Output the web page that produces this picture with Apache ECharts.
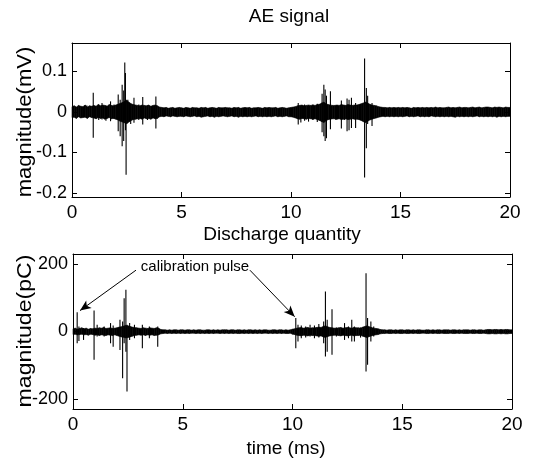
<!DOCTYPE html>
<html>
<head>
<meta charset="utf-8">
<script src="https://cdn.jsdelivr.net/npm/echarts@6/dist/echarts.min.js"></script>
<style>
  html, body { margin: 0; padding: 0; background: #fff; }
  #chart { width: 549px; height: 458px; }
</style>
</head>
<body>
<div id="chart"></div>
<script>
// Background envelopes are sampled every 0.1 ms over 0–20 ms.
const SAMPLE_STEP_MS = 0.1;

const timeTicks = [0, 5, 10, 15, 20];
const aeTicks = [-0.2, -0.1, 0, 0.1];
const chargeTicks = [-200, 0, 200];

// AE signal background envelope (mV), one row per millisecond.
const aeUpper = [
  0.013,0.015,0.012,0.016,0.014,0.013,0.017,0.012,0.015,0.014,
  0.016,0.014,0.018,0.015,0.017,0.016,0.014,0.018,0.016,0.015,
  0.017,0.019,0.021,0.023,0.026,0.028,0.024,0.020,0.018,0.017,
  0.016,0.015,0.017,0.016,0.015,0.017,0.014,0.016,0.017,0.015,
  0.012,0.011,0.010,0.011,0.009,0.010,0.011,0.009,0.010,0.011,
  0.010,0.009,0.011,0.010,0.009,0.011,0.010,0.010,0.009,0.011,
  0.010,0.011,0.009,0.010,0.011,0.010,0.009,0.011,0.010,0.010,
  0.011,0.010,0.010,0.009,0.011,0.010,0.011,0.009,0.010,0.011,
  0.010,0.011,0.009,0.010,0.010,0.011,0.010,0.009,0.011,0.010,
  0.011,0.010,0.010,0.011,0.009,0.010,0.011,0.010,0.009,0.010,
  0.011,0.012,0.013,0.015,0.016,0.017,0.015,0.016,0.017,0.016,
  0.017,0.016,0.018,0.019,0.022,0.024,0.020,0.018,0.017,0.016,
  0.016,0.017,0.016,0.018,0.017,0.016,0.018,0.017,0.016,0.017,
  0.017,0.018,0.020,0.022,0.024,0.022,0.019,0.017,0.016,0.015,
  0.013,0.012,0.011,0.011,0.010,0.011,0.010,0.011,0.010,0.011,
  0.010,0.011,0.010,0.011,0.010,0.009,0.011,0.010,0.011,0.010,
  0.011,0.010,0.011,0.010,0.011,0.010,0.012,0.010,0.011,0.010,
  0.010,0.011,0.012,0.010,0.011,0.010,0.011,0.012,0.010,0.011,
  0.011,0.010,0.011,0.012,0.010,0.011,0.012,0.010,0.011,0.012,
  0.012,0.011,0.010,0.012,0.011,0.012,0.011,0.010,0.012,0.011,
  0.011
];
const aeLower = [
  -0.014,-0.013,-0.016,-0.012,-0.015,-0.014,-0.013,-0.016,-0.012,-0.014,
  -0.015,-0.017,-0.014,-0.016,-0.015,-0.018,-0.016,-0.014,-0.017,-0.016,
  -0.018,-0.020,-0.023,-0.025,-0.027,-0.029,-0.025,-0.021,-0.019,-0.018,
  -0.017,-0.016,-0.018,-0.015,-0.017,-0.016,-0.018,-0.015,-0.017,-0.016,
  -0.012,-0.011,-0.012,-0.010,-0.011,-0.012,-0.010,-0.011,-0.012,-0.011,
  -0.011,-0.012,-0.010,-0.011,-0.012,-0.011,-0.010,-0.012,-0.011,-0.013,
  -0.012,-0.011,-0.010,-0.012,-0.011,-0.013,-0.011,-0.012,-0.011,-0.010,
  -0.011,-0.012,-0.011,-0.010,-0.012,-0.011,-0.013,-0.011,-0.012,-0.011,
  -0.012,-0.011,-0.012,-0.011,-0.010,-0.012,-0.011,-0.012,-0.011,-0.012,
  -0.011,-0.012,-0.011,-0.010,-0.012,-0.011,-0.012,-0.011,-0.010,-0.012,
  -0.012,-0.013,-0.015,-0.017,-0.018,-0.016,-0.017,-0.018,-0.016,-0.017,
  -0.018,-0.017,-0.019,-0.021,-0.024,-0.026,-0.022,-0.019,-0.018,-0.017,
  -0.017,-0.018,-0.017,-0.019,-0.018,-0.017,-0.019,-0.018,-0.017,-0.018,
  -0.018,-0.019,-0.021,-0.024,-0.026,-0.023,-0.020,-0.018,-0.016,-0.015,
  -0.013,-0.012,-0.011,-0.012,-0.011,-0.012,-0.011,-0.012,-0.011,-0.012,
  -0.011,-0.012,-0.011,-0.010,-0.012,-0.011,-0.012,-0.011,-0.010,-0.012,
  -0.011,-0.012,-0.011,-0.012,-0.010,-0.011,-0.012,-0.011,-0.012,-0.011,
  -0.012,-0.011,-0.012,-0.011,-0.012,-0.013,-0.011,-0.012,-0.011,-0.012,
  -0.011,-0.012,-0.011,-0.012,-0.011,-0.010,-0.012,-0.011,-0.012,-0.011,
  -0.012,-0.011,-0.012,-0.011,-0.013,-0.011,-0.012,-0.011,-0.012,-0.011,
  -0.011
];

// AE bursts: [time ms, positive peak mV, negative peak mV]
const aeBursts = [
  [0.68, 0.016, -0.014], [0.97, 0.047, -0.064], [1.22, 0.018, -0.020],
  [1.37, 0.022, -0.019], [1.55, 0.016, -0.022], [1.76, 0.026, -0.023],
  [1.92, 0.018, -0.016], [2.11, 0.043, -0.048], [2.20, 0.030, -0.060],
  [2.29, 0.067, -0.085], [2.36, 0.053, -0.072], [2.41, 0.122, -0.020],
  [2.44, 0.096, -0.045], [2.47, 0.030, -0.155], [2.55, 0.030, -0.022],
  [2.68, 0.020, -0.030], [2.83, 0.035, -0.027], [3.05, 0.018, -0.020],
  [3.23, 0.037, -0.031], [3.45, 0.016, -0.020], [3.83, 0.038, -0.041],
  [10.33, 0.022, -0.031], [10.45, 0.016, -0.026], [10.62, 0.018, -0.022],
  [10.80, 0.014, -0.024], [11.00, 0.018, -0.020], [11.20, 0.020, -0.025],
  [11.42, 0.045, -0.050], [11.50, 0.067, -0.060], [11.56, 0.055, -0.072],
  [11.62, 0.040, -0.065], [11.80, 0.051, -0.043], [12.05, 0.016, -0.020],
  [12.30, 0.028, -0.041], [12.45, 0.016, -0.020], [12.56, 0.033, -0.048],
  [12.65, 0.030, -0.045], [12.76, 0.035, -0.040], [12.95, 0.022, -0.040],
  [13.15, 0.018, -0.020], [13.36, 0.132, -0.162], [13.44, 0.059, -0.090],
  [13.50, 0.040, -0.030], [13.70, 0.022, -0.035]
];

// Discharge quantity background envelope (pC), one row per millisecond.
const chargeUpper = [
  8,10,7,9,11,8,10,7,9,8,
  10,9,11,10,12,9,10,11,9,10,
  11,13,14,16,18,17,15,13,12,11,
  10,9,11,10,9,11,10,9,11,10,
  6,5,5,4,5,4,5,5,4,5,
  5,4,5,5,4,5,4,5,5,4,
  4,5,5,4,5,4,5,4,5,5,
  5,4,5,5,4,5,5,4,5,4,
  5,5,4,5,4,5,4,5,5,4,
  4,5,5,4,5,5,4,5,4,5,
  7,8,10,11,12,10,11,12,10,11,
  11,12,13,12,15,17,14,12,11,10,
  10,11,12,10,11,12,11,10,12,11,
  11,10,13,15,17,14,12,10,9,8,
  6,5,5,4,5,5,4,5,4,5,
  5,4,5,5,4,5,4,5,5,4,
  4,5,5,4,5,4,5,5,4,5,
  5,5,4,5,5,4,5,4,5,5,
  5,4,5,5,4,5,5,4,5,6,
  6,5,6,6,5,6,5,6,6,5,
  5
];
const chargeLower = [
  -9,-8,-10,-9,-8,-10,-9,-11,-8,-9,
  -11,-10,-12,-10,-11,-12,-10,-11,-12,-10,
  -12,-14,-16,-17,-19,-18,-16,-14,-12,-11,
  -10,-11,-10,-12,-10,-11,-10,-12,-11,-10,
  -7,-6,-5,-6,-5,-6,-5,-6,-5,-6,
  -5,-6,-5,-6,-5,-5,-6,-5,-6,-5,
  -6,-5,-6,-5,-6,-5,-5,-6,-5,-6,
  -5,-6,-5,-6,-5,-6,-6,-5,-6,-5,
  -6,-5,-6,-5,-6,-5,-6,-5,-5,-6,
  -5,-6,-5,-6,-5,-6,-5,-6,-6,-5,
  -8,-9,-11,-12,-13,-11,-12,-13,-11,-12,
  -12,-13,-14,-13,-16,-18,-15,-13,-12,-11,
  -11,-12,-13,-11,-12,-13,-12,-11,-13,-12,
  -12,-11,-14,-16,-18,-15,-13,-11,-10,-9,
  -7,-6,-6,-5,-6,-6,-5,-6,-5,-6,
  -6,-5,-6,-6,-5,-6,-5,-6,-6,-5,
  -5,-6,-6,-5,-6,-5,-6,-6,-5,-6,
  -6,-6,-5,-6,-6,-5,-6,-5,-6,-6,
  -6,-5,-6,-6,-5,-6,-6,-5,-6,-7,
  -7,-6,-7,-7,-6,-7,-6,-7,-7,-6,
  -6
];

// Discharge pulses: [time ms, positive peak pC, negative peak pC]
const chargeBursts = [
  [0.19, 57, -35], [0.27, 15, -28], [0.48, 10, -25], [0.96, 62, -84],
  [1.10, 20, -15], [1.42, 15, -15], [1.71, 25, -35], [1.83, 18, -45],
  [2.14, 35, -55], [2.26, 30, -139], [2.33, 99, -35], [2.41, 124, -60],
  [2.46, 20, -178], [2.58, 25, -25], [2.80, 20, -20], [3.16, 20, -50],
  [3.48, 15, -20], [3.86, 15, -45],
  [10.15, 40, -50], [10.25, 20, -30], [10.40, 18, -20], [10.60, 15, -18],
  [10.80, 20, -15], [11.00, 18, -20], [11.20, 22, -18], [11.42, 30, -35],
  [11.50, 119, -74], [11.58, 35, -60], [11.80, 66, -69], [12.00, 12, -15],
  [12.37, 25, -25], [12.55, 15, -20], [12.70, 35, -30], [12.82, 15, -30],
  [13.10, 12, -18], [13.35, 173, -119], [13.42, 40, -99], [13.57, 30, -30],
  [13.70, 15, -15]
];

const FONT = '"Liberation Sans", Arial, Helvetica, sans-serif';
const INK = '#000';

// Consecutive envelope samples become quads: [t0, lo0, hi0, t1, lo1, hi1]
function bandSegments(upper, lower) {
  const segs = [];
  for (let i = 0; i + 1 < upper.length; i++) {
    segs.push([i * SAMPLE_STEP_MS, lower[i], upper[i],
               (i + 1) * SAMPLE_STEP_MS, lower[i + 1], upper[i + 1]]);
  }
  return segs;
}

function renderBand(params, api) {
  const p1 = api.coord([api.value(0), api.value(2)]);
  const p2 = api.coord([api.value(3), api.value(5)]);
  const p3 = api.coord([api.value(3), api.value(4)]);
  const p4 = api.coord([api.value(0), api.value(1)]);
  return {
    type: 'polygon',
    shape: { points: [p1, p2, p3, p4] },
    style: { fill: INK, stroke: INK, lineWidth: 0.6 }
  };
}

function renderBurst(params, api) {
  const top = api.coord([api.value(0), api.value(1)]);
  const bottom = api.coord([api.value(0), api.value(2)]);
  return {
    type: 'line',
    shape: { x1: top[0], y1: top[1], x2: bottom[0], y2: bottom[1] },
    style: { stroke: INK, lineWidth: 1.1 }
  };
}

function xAxisPair(gridIndex) {
  const base = {
    gridIndex, type: 'value', min: 0, max: 20, interval: 5,
    axisLine: { show: true, onZero: false, lineStyle: { color: INK, width: 1 } },
    axisTick: { show: true, inside: true, length: 5, lineStyle: { color: INK, width: 1 } },
    splitLine: { show: false }
  };
  return [
    Object.assign({}, base, {
      position: 'bottom',
      axisLabel: { color: INK, fontSize: 19, fontFamily: FONT, margin: 6 }
    }),
    Object.assign({}, base, { position: 'top', axisLabel: { show: false } })
  ];
}

function yAxisPair(gridIndex, min, max, ticks) {
  const base = {
    gridIndex, type: 'value', min, max,
    axisLine: { show: true, onZero: false, lineStyle: { color: INK, width: 1 } },
    axisTick: { show: true, inside: true, length: 5, customValues: ticks, lineStyle: { color: INK, width: 1 } },
    splitLine: { show: false }
  };
  return [
    Object.assign({}, base, {
      position: 'left',
      axisLabel: { color: INK, fontSize: 18, fontFamily: FONT, margin: 5, customValues: ticks }
    }),
    Object.assign({}, base, { position: 'right', axisLabel: { show: false } })
  ];
}

function textItem(text, x, y, size, rotation, stretch) {
  return {
    type: 'text', x, y, rotation: rotation || 0, scaleX: stretch || 1,
    style: { text, fill: INK, font: size + 'px ' + FONT, textAlign: 'center', textVerticalAlign: 'middle' }
  };
}

function bandSeries(name, axisIndex, upper, lower) {
  return {
    name, type: 'custom', coordinateSystem: 'cartesian2d',
    xAxisIndex: axisIndex, yAxisIndex: axisIndex,
    data: bandSegments(upper, lower),
    encode: { x: [0, 3], y: [1, 2, 4, 5] },
    renderItem: renderBand, silent: true
  };
}

function burstSeries(name, axisIndex, bursts) {
  return {
    name, type: 'custom', coordinateSystem: 'cartesian2d',
    xAxisIndex: axisIndex, yAxisIndex: axisIndex,
    data: bursts,
    encode: { x: 0, y: [1, 2] },
    renderItem: renderBurst, silent: true
  };
}

const chart = echarts.init(document.getElementById('chart'), null, { renderer: 'canvas' });

const chargePulses = burstSeries('Discharge quantity', 2, chargeBursts);
chargePulses.markLine = {
  silent: true, animation: false,
  symbol: ['none', 'arrow'], symbolSize: [7, 11],
  lineStyle: { color: INK, width: 1, type: 'solid' },
  label: { show: false },
  data: [
    [{ coord: [2.87, 182] }, { coord: [0.32, 62] }],
    [{ coord: [8.06, 182] }, { coord: [10.10, 44] }]
  ]
};

chart.setOption({
  animation: false,
  backgroundColor: '#fff',
  grid: [
    { left: 72, top: 43, width: 438, height: 154 },
    { left: 73, top: 254, width: 439, height: 155 }
  ],
  xAxis: [...xAxisPair(0), ...xAxisPair(1)],
  yAxis: [...yAxisPair(0, -0.21, 0.17, aeTicks), ...yAxisPair(1, -230, 230, chargeTicks)],
  series: [
    bandSeries('AE signal', 0, aeUpper, aeLower),
    burstSeries('AE signal', 0, aeBursts),
    bandSeries('Discharge quantity', 2, chargeUpper, chargeLower),
    chargePulses
  ],
  graphic: [
    textItem('AE signal', 289, 17, 19),
    textItem('Discharge quantity', 282, 235, 19),
    textItem('time (ms)', 286, 449, 19),
    textItem('magnitude(mV)', 25, 122, 21, Math.PI / 2, 1.05),
    textItem('magnitude(pC)', 25, 331, 21, Math.PI / 2, 1.1),
    textItem('calibration pulse', 195, 267, 15)
  ]
});
</script>
</body>
</html>
